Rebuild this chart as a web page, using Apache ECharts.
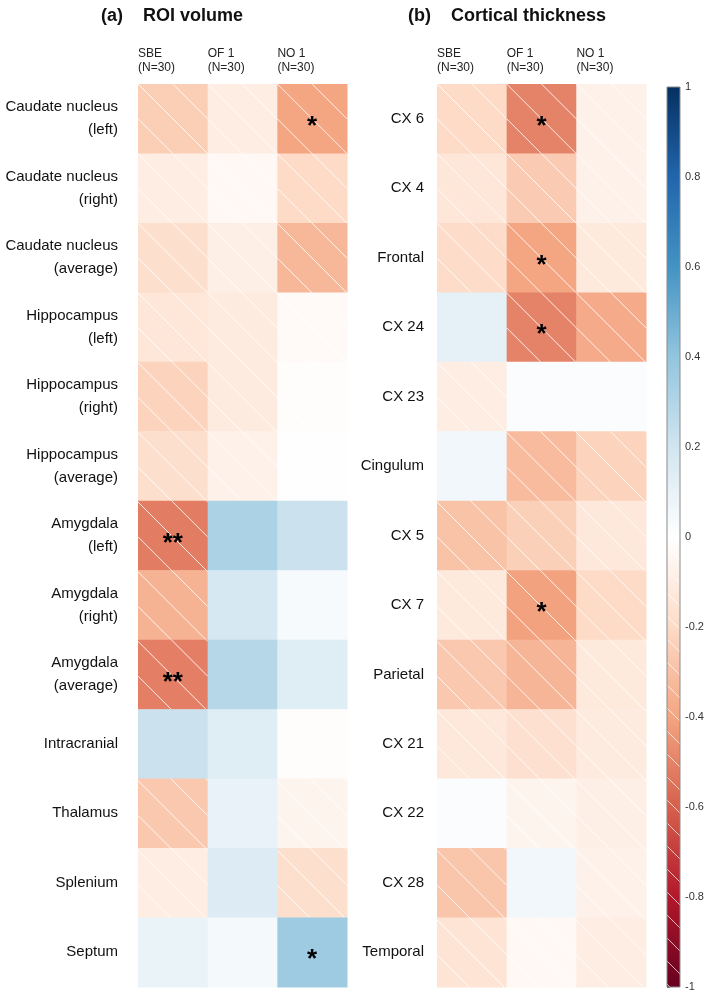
<!DOCTYPE html>
<html><head><meta charset="utf-8">
<script src="https://cdn.jsdelivr.net/npm/echarts@6/dist/echarts.min.js"></script>
<style>html,body{margin:0;padding:0;background:#fff}#c{width:709px;height:993px}</style>
</head><body><div id="c"></div>
<script>
// ---------- data ----------
const COLUMNS = ['SBE\n(N=30)', 'OF 1\n(N=30)', 'NO 1\n(N=30)'];
const ROI_ROWS = ['Caudate nucleus\n(left)', 'Caudate nucleus\n(right)', 'Caudate nucleus\n(average)',
  'Hippocampus\n(left)', 'Hippocampus\n(right)', 'Hippocampus\n(average)',
  'Amygdala\n(left)', 'Amygdala\n(right)', 'Amygdala\n(average)',
  'Intracranial', 'Thalamus', 'Splenium', 'Septum'];
const CT_ROWS = ['CX 6', 'CX 4', 'Frontal', 'CX 24', 'CX 23', 'Cingulum', 'CX 5', 'CX 7',
  'Parietal', 'CX 21', 'CX 22', 'CX 28', 'Temporal'];
// correlations per row: [SBE, OF 1, NO 1]
const ROI_VALUES = [
  [-0.25, -0.10, -0.40],
  [-0.10, -0.04, -0.20],
  [-0.18, -0.09, -0.33],
  [-0.14, -0.11, -0.03],
  [-0.23, -0.11, -0.01],
  [-0.18, -0.08, -0.005],
  [-0.52,  0.32,  0.22],
  [-0.35,  0.18,  0.04],
  [-0.51,  0.29,  0.14],
  [ 0.22,  0.14, -0.01],
  [-0.27,  0.10, -0.06],
  [-0.10,  0.15, -0.18],
  [ 0.09,  0.05,  0.36]
];
const ROI_SIG = [
  ['', '', '*'], ['', '', ''], ['', '', ''], ['', '', ''], ['', '', ''], ['', '', ''],
  ['**', '', ''], ['', '', ''], ['**', '', ''], ['', '', ''], ['', '', ''], ['', '', ''], ['', '', '*']
];
const CT_VALUES = [
  [-0.20, -0.50, -0.08],
  [-0.14, -0.26, -0.08],
  [-0.19, -0.40, -0.12],
  [ 0.11, -0.50, -0.38],
  [-0.10,  0.02,  0.02],
  [ 0.06, -0.32, -0.23],
  [-0.29, -0.24, -0.13],
  [-0.12, -0.41, -0.20],
  [-0.27, -0.34, -0.12],
  [-0.13, -0.17, -0.11],
  [ 0.02, -0.06, -0.09],
  [-0.28,  0.06, -0.08],
  [-0.15, -0.04, -0.10]
];
const CT_SIG = [
  ['', '*', ''], ['', '', ''], ['', '*', ''], ['', '*', ''], ['', '', ''], ['', '', ''],
  ['', '', ''], ['', '*', ''], ['', '', ''], ['', '', ''], ['', '', ''], ['', '', ''], ['', '', '']
];
const COLORBAR_TICKS = [-1, -0.8, -0.6, -0.4, -0.2, 0, 0.2, 0.4, 0.6, 0.8, 1];
const PALETTE = ['#67001F', '#B2182B', '#D6604D', '#F4A582', '#FDDBC7', '#FFFFFF',
  '#D1E5F0', '#92C5DE', '#4393C3', '#2166AC', '#053061'];
const TITLES = [['(a)', 'ROI volume'], ['(b)', 'Cortical thickness']];

// ---------- build ----------
const FONT = "'Liberation Sans', Arial, sans-serif";
function toData(vals) {
  const out = [];
  vals.forEach((row, r) => row.forEach((v, c) => out.push([c, r, v])));
  return out;
}
function toStars(sig) {
  const out = [];
  sig.forEach(row => row.forEach(s => out.push(s)));
  return out;
}
function hatchLines(x0, y0, x1, y1, ox, oy, s, style) {
  const els = [];
  const base = ox - oy;
  const kMin = Math.floor(((x0 - y1) - base) / s) - 1;
  const kMax = Math.ceil(((x1 - y0) - base) / s) + 1;
  for (let k = kMin; k <= kMax; k++) {
    const c = base + k * s;
    const ylo = Math.max(y0, x0 - c), yhi = Math.min(y1, x1 - c);
    if (yhi - ylo > 0.5) {
      els.push({ type: 'line', shape: { x1: ylo + c, y1: ylo, x2: yhi + c, y2: yhi }, style: style, silent: true });
    }
  }
  return els;
}
function makeCellRender(stars) {
  return function (params, api) {
    const col = api.value(0), row = api.value(1), v = api.value(2);
    const st = stars[params.dataIndex];
    const ctr = api.coord([col, row]);
    const sz = api.size([1, 1]);
    const w = sz[0], h = sz[1];
    const x0 = ctr[0] - w / 2, y0 = ctr[1] - h / 2;
    const org = api.coord([0, 0]);
    const ox = org[0] - w / 2, oy = org[1] - h / 2;
    const children = [{ type: 'rect', shape: { x: x0, y: y0, width: w + 0.5, height: h + 0.5 },
      style: { fill: api.visual('color') } }];
    if (v < 0) {
      hatchLines(x0, y0, x0 + w, y0 + h, ox, oy, w / 2,
        { stroke: 'rgba(255,255,255,0.85)', lineWidth: 1 }).forEach(e => children.push(e));
    }
    if (st) {
      children.push({ type: 'text', x: ctr[0], y: ctr[1] + 8, silent: true, z2: 10,
        style: { text: st, fontSize: 26, fontWeight: 'bold', fontFamily: FONT, fill: '#000',
          align: 'center', verticalAlign: 'middle' } });
    }
    return { type: 'group', children: children };
  };
}
function colorbarRender(params, api) {
  const top = api.coord([0, api.value(2)]);
  const bot = api.coord([1, api.value(1)]);
  const zero = api.coord([0, 0]);
  const x0 = top[0], y0 = top[1], x1 = bot[0], y1 = bot[1];
  const stops = PALETTE.map((c, i) => ({ offset: 1 - i / (PALETTE.length - 1), color: c }));
  const children = [{ type: 'rect', shape: { x: x0, y: y0, width: x1 - x0, height: y1 - y0 },
    style: { fill: new echarts.graphic.LinearGradient(0, 0, 0, 1, stops) } }];
  hatchLines(x0, zero[1] + 10, x1, y1, x0, zero[1] + 10, 23,
    { stroke: 'rgba(255,255,255,0.7)', lineWidth: 1 }).forEach(e => children.push(e));
  children.push({ type: 'rect', shape: { x: x0, y: y0, width: x1 - x0, height: y1 - y0 },
    style: { fill: null, stroke: '#8a8a8a', lineWidth: 1 } });
  return { type: 'group', children: children };
}
const GRID_TOP = 84, GRID_H = 903;
const chart = echarts.init(document.getElementById('c'), null, { renderer: 'canvas' });
const catX = (gi) => ({
  type: 'category', gridIndex: gi, data: COLUMNS, position: 'top',
  axisLine: { show: false }, axisTick: { show: false }, splitLine: { show: false },
  axisLabel: { show: false }
});
const catY = (gi, rows, margin) => ({
  type: 'category', gridIndex: gi, data: rows, inverse: true,
  axisLine: { show: false }, axisTick: { show: false }, splitLine: { show: false },
  axisLabel: { margin: margin, fontFamily: FONT, fontSize: 15, color: '#111', lineHeight: 23, align: 'right' }
});
const headerGraphics = [];
[138, 437].forEach((gx, gi) => {
  COLUMNS.forEach((c, ci) => {
    headerGraphics.push({ type: 'text', left: gx + ci * 69.7, top: 47,
      style: { text: c, fontFamily: FONT, fontSize: 12, lineHeight: 14, fill: '#222' } });
  });
});
chart.setOption({
  backgroundColor: '#fff',
  animation: false,
  title: [
    { text: TITLES[0][0] + '    ' + TITLES[0][1], left: 96, top: 2,
      textStyle: { fontFamily: FONT, fontSize: 18, fontWeight: 'bold', color: '#111' } },
    { text: TITLES[1][0] + '    ' + TITLES[1][1], left: 403, top: 2,
      textStyle: { fontFamily: FONT, fontSize: 18, fontWeight: 'bold', color: '#111' } }
  ],
  graphic: headerGraphics,
  grid: [
    { left: 138, top: GRID_TOP, width: 209, height: GRID_H },
    { left: 437, top: GRID_TOP, width: 209, height: GRID_H },
    { left: 667, top: 87, width: 13, height: 900 }
  ],
  xAxis: [catX(0), catX(1),
    { type: 'value', gridIndex: 2, min: 0, max: 1, show: false }],
  yAxis: [catY(0, ROI_ROWS, 20), catY(1, CT_ROWS, 13),
    { type: 'value', gridIndex: 2, min: -1, max: 1, interval: 0.2, position: 'right',
      axisLine: { show: false }, splitLine: { show: false },
      axisTick: { show: true, length: 3, lineStyle: { color: '#666' } },
      axisLabel: { margin: 5, fontFamily: FONT, fontSize: 11, color: '#333',
        formatter: v => String(Math.round(v * 10) / 10) } }],
  visualMap: { show: false, type: 'continuous', min: -1, max: 1, dimension: 2, seriesIndex: [0, 1],
    inRange: { color: PALETTE } },
  series: [
    { type: 'custom', xAxisIndex: 0, yAxisIndex: 0, renderItem: makeCellRender(toStars(ROI_SIG)),
      data: toData(ROI_VALUES), encode: { x: 0, y: 1 } },
    { type: 'custom', xAxisIndex: 1, yAxisIndex: 1, renderItem: makeCellRender(toStars(CT_SIG)),
      data: toData(CT_VALUES), encode: { x: 0, y: 1 } },
    { type: 'custom', xAxisIndex: 2, yAxisIndex: 2, renderItem: colorbarRender,
      data: [[0, COLORBAR_TICKS[0], COLORBAR_TICKS[COLORBAR_TICKS.length - 1]]], encode: { x: 0, y: [1, 2] } }
  ]
});
</script></body></html>
